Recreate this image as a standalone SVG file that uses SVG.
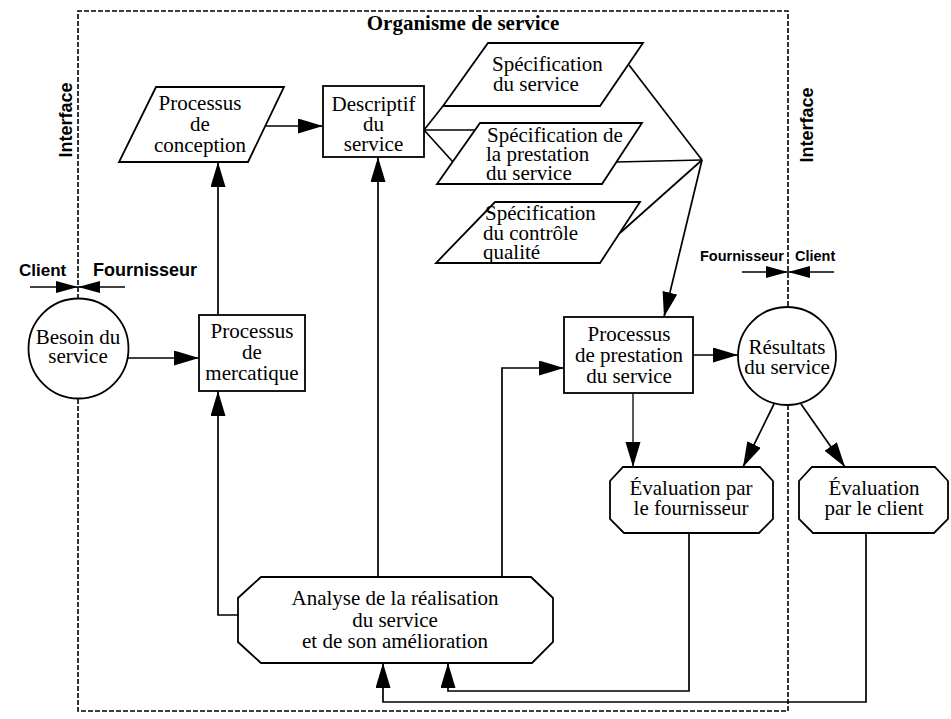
<svg xmlns="http://www.w3.org/2000/svg" width="951" height="719" viewBox="0 0 951 719">
  <style>
    .bg { fill: #ffffff; }
    .node { fill: #ffffff; stroke: #000; stroke-width: 1.8; }
    .t { font-family: "Liberation Serif", "Times New Roman", serif; font-size: 21px; fill: #000; }
    .c { text-anchor: middle; }
    .title { font-family: "Liberation Serif", "Times New Roman", serif; font-size: 21px; font-weight: bold; text-anchor: middle; fill: #000; }
    .lab { font-family: "Liberation Sans", Arial, sans-serif; font-weight: bold; fill: #000; }
    .edge { fill: none; stroke: #000; stroke-width: 1.7; }
    .arr { marker-end: url(#head); }
    .boundary { fill: none; stroke: #000; stroke-width: 1.6; stroke-dasharray: 5 2; }
  </style>
  <defs>
    <marker id="head" markerUnits="userSpaceOnUse" markerWidth="26" markerHeight="16" refX="25" refY="7.5" orient="auto">
      <path d="M0,0 L25,7.5 L0,15 z" fill="#000"/>
    </marker>
    <marker id="headSmall" markerUnits="userSpaceOnUse" markerWidth="23" markerHeight="13" refX="22" refY="6" orient="auto">
      <path d="M0,0 L22,6 L0,12 z" fill="#000"/>
    </marker>
  </defs>

  <rect class="bg" x="0" y="0" width="951" height="719"/>

  <!-- organisation boundary (interfaces) -->
  <g id="boundary">
    <path class="boundary" d="M78,299 V11 H788 V307"/>
    <path class="boundary" d="M788,405 V711 H78 V399"/>
    <text class="title" x="463" y="30">Organisme de service</text>
    <text class="lab" font-size="18" text-anchor="middle" transform="translate(72,120) rotate(-90)">Interface</text>
    <text class="lab" font-size="18" text-anchor="middle" transform="translate(813,125) rotate(-90)">Interface</text>
    <text class="lab" font-size="17" x="19" y="276">Client</text>
    <text class="lab" font-size="18" x="93" y="276">Fournisseur</text>
    <text class="lab" font-size="14.5" x="700" y="261">Fournisseur</text>
    <text class="lab" font-size="14.5" x="795" y="261">Client</text>
    <line class="edge" x1="30" y1="287" x2="78" y2="287" marker-end="url(#headSmall)"/>
    <line class="edge" x1="125" y1="287" x2="78" y2="287" marker-end="url(#headSmall)"/>
    <line class="edge" x1="742" y1="272" x2="788" y2="272" marker-end="url(#headSmall)"/>
    <line class="edge" x1="834" y1="272" x2="788" y2="272" marker-end="url(#headSmall)"/>
  </g>

  <!-- connectors -->
  <g id="connectors">
    <line class="edge arr" x1="128" y1="358" x2="199" y2="358"/>
    <line class="edge arr" x1="218" y1="315" x2="218" y2="162"/>
    <line class="edge arr" x1="266" y1="126" x2="323" y2="126"/>
    <!-- descriptive outline to the three specifications -->
    <line class="edge" x1="424" y1="130" x2="443" y2="106"/>
    <line class="edge" x1="424" y1="130" x2="475" y2="130"/>
    <line class="edge" x1="424" y1="130" x2="453" y2="162"/>
    <!-- specifications converge on the delivery process -->
    <line class="edge" x1="629" y1="65" x2="702" y2="160"/>
    <line class="edge" x1="616" y1="162" x2="702" y2="160"/>
    <line class="edge" x1="620" y1="233" x2="702" y2="160"/>
    <line class="edge arr" x1="702" y1="160" x2="664" y2="317"/>
    <line class="edge arr" x1="693" y1="355" x2="738" y2="355"/>
    <line class="edge arr" x1="633" y1="393" x2="633" y2="467" style="stroke-width:1.3"/>
    <line class="edge arr" x1="774" y1="404" x2="743" y2="467"/>
    <line class="edge arr" x1="801" y1="404" x2="845" y2="467"/>
    <!-- feedback from analysis -->
    <path class="edge arr" d="M238,615 H218 V391"/>
    <line class="edge arr" x1="378" y1="577" x2="378" y2="157"/>
    <path class="edge arr" d="M502,577 V368 H564"/>
    <path class="edge arr" d="M689,533 V691 H448 V663"/>
    <path class="edge arr" d="M866,533 V702 H383 V663"/>
  </g>

  <g id="besoin">
    <circle class="node" cx="78.5" cy="348.5" r="50"/>
    <text class="t c" x="78" y="344">Besoin du</text>
    <text class="t c" x="78" y="363">service</text>
  </g>

  <g id="conception">
    <polygon class="node" points="156,87 284,87 248,162 119,162"/>
    <text class="t c" x="200" y="110">Processus</text>
    <text class="t c" x="200" y="131">de</text>
    <text class="t c" x="200" y="152">conception</text>
  </g>

  <g id="descriptif">
    <rect class="node" x="323" y="86" width="101" height="71"/>
    <text class="t c" x="373.5" y="111">Descriptif</text>
    <text class="t c" x="373.5" y="131">du</text>
    <text class="t c" x="373.5" y="151">service</text>
  </g>

  <g id="spec-service">
    <polygon class="node" points="488,43 643,43 600,106 443,106"/>
    <text class="t" x="492" y="71">Spécification</text>
    <text class="t" x="493" y="91">du service</text>
  </g>

  <g id="spec-prestation">
    <polygon class="node" points="480,123 642,123 602,184 437,184"/>
    <text class="t" x="487" y="142">Spécification de</text>
    <text class="t" x="486" y="161">la prestation</text>
    <text class="t" x="486" y="180">du service</text>
  </g>

  <g id="spec-qualite">
    <polygon class="node" points="495,202 640,202 600,263 436,263"/>
    <text class="t" x="485" y="220">Spécification</text>
    <text class="t" x="483" y="240">du contrôle</text>
    <text class="t" x="483" y="259">qualité</text>
  </g>

  <g id="mercatique">
    <rect class="node" x="199" y="315" width="106" height="76"/>
    <text class="t c" x="252" y="338">Processus</text>
    <text class="t c" x="252" y="359">de</text>
    <text class="t c" x="252" y="380">mercatique</text>
  </g>

  <g id="prestation">
    <rect class="node" x="564" y="317" width="129" height="76"/>
    <text class="t c" x="629" y="341">Processus</text>
    <text class="t c" x="629" y="362">de prestation</text>
    <text class="t c" x="629" y="383">du service</text>
  </g>

  <g id="resultats">
    <circle class="node" cx="787" cy="356" r="49"/>
    <text class="t c" x="787" y="354">Résultats</text>
    <text class="t c" x="787" y="374">du service</text>
  </g>

  <g id="eval-fournisseur">
    <polygon class="node" points="623,467 760,467 773,481 773,519 759,533 624,533 610,519 610,481"/>
    <text class="t c" x="691" y="495">Évaluation par</text>
    <text class="t c" x="691" y="515">le fournisseur</text>
  </g>

  <g id="eval-client">
    <polygon class="node" points="812,467 935,467 948,481 948,519 934,533 813,533 799,519 799,481"/>
    <text class="t c" x="874" y="495">Évaluation</text>
    <text class="t c" x="874" y="515">par le client</text>
  </g>

  <g id="analyse">
    <polygon class="node" points="261,577 531,577 553,598 553,642 532,663 261,663 238,642 238,598"/>
    <text class="t c" x="395" y="605">Analyse de la réalisation</text>
    <text class="t c" x="395" y="627">du service</text>
    <text class="t c" x="395" y="648">et de son amélioration</text>
  </g>
</svg>
